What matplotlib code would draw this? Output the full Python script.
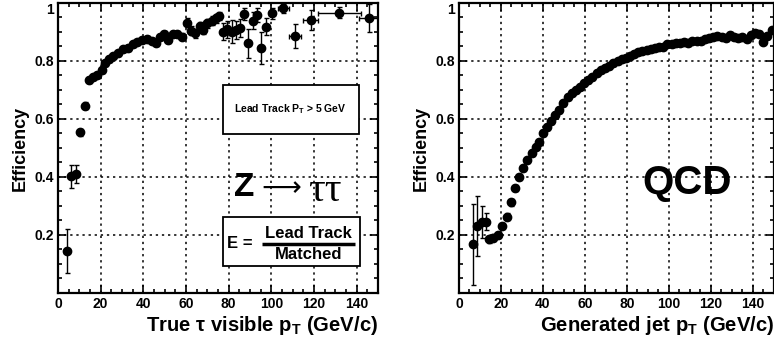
import matplotlib
matplotlib.use("Agg")
import matplotlib.pyplot as plt
from matplotlib.patches import Rectangle
from matplotlib.ticker import MultipleLocator, FixedLocator, FixedFormatter

plt.rcParams.update({
    "font.family": ["Liberation Sans", "DejaVu Sans"],
    "font.weight": "bold",
    "axes.labelweight": "bold",
    "mathtext.fontset": "custom",
    "mathtext.rm": "Liberation Sans:bold",
    "mathtext.bf": "Liberation Sans:bold",
    "mathtext.it": "Liberation Sans:bold",
})

# ---- data: Z -> tautau (left panel)
tau_pt = [4.0, 6.1, 8.4, 10.3, 12.7, 14.7, 16.6, 18.4, 20.5, 22.0,
          23.9, 25.9, 28.3, 30.6, 33.0, 35.3, 37.2, 39.2, 41.6, 43.9,
          45.9, 47.8, 49.7, 51.7, 53.7, 55.9, 58.0, 60.3, 62.2, 64.2,
          66.6, 68.1, 70.0, 72.0, 74.1, 75.6, 77.5, 79.4, 81.4, 83.4,
          85.3, 87.2, 89.2, 91.3, 93.1, 95.0, 97.5, 100.2, 105.6, 111.1,
          118.5, 131.9, 145.9]
tau_eff = [0.145, 0.403, 0.41, 0.554, 0.645, 0.734, 0.744, 0.752, 0.769, 0.792,
           0.806, 0.818, 0.826, 0.840, 0.844, 0.857, 0.864, 0.872, 0.875, 0.870,
           0.863, 0.884, 0.892, 0.872, 0.892, 0.892, 0.884, 0.932, 0.905, 0.895,
           0.921, 0.907, 0.930, 0.939, 0.947, 0.955, 0.901, 0.909, 0.901, 0.907,
           0.913, 0.962, 0.861, 0.939, 0.959, 0.844, 0.918, 0.964, 0.982, 0.886,
           0.941, 0.967, 0.947]
tau_yerr = [0.075, 0.04, 0.03, 0.012, 0.012, 0.01, 0.01, 0.01, 0.01, 0.01,
            0.01, 0.01, 0.01, 0.01, 0.01, 0.01, 0.01, 0.01, 0.01, 0.01,
            0.01, 0.01, 0.01, 0.01, 0.01, 0.01, 0.012, 0.015, 0.015, 0.015,
            0.015, 0.015, 0.015, 0.015, 0.015, 0.015, 0.03, 0.03, 0.04, 0.03,
            0.03, 0.02, 0.05, 0.03, 0.025, 0.055, 0.03, 0.02, 0.015, 0.04,
            0.035, 0.02, 0.048]
tau_xerr = [1, 1, 1, 1, 1, 1, 1, 1, 1, 1,
            1, 1, 1, 1, 1, 1, 1, 1, 1, 1,
            1, 1, 1, 1, 1, 1, 1, 1, 1, 1,
            1, 1, 1, 1, 1, 1, 1, 1, 1, 1,
            1, 1, 1, 1, 1, 1, 1, 1.5, 2.5, 3,
            3.5, 10, 5]

# ---- data: QCD jets (right panel)
jet_pt = [6.5, 8.4, 10.8, 12.9, 14.4, 16.3, 18.4, 20.6, 22.7, 24.6,
          26.7, 28.6, 30.6, 32.5, 34.6, 36.5, 38.2, 40.2, 42.0, 43.8,
          45.7, 47.6, 49.7, 51.7, 53.7, 55.7, 57.6, 59.7, 61.6, 63.5,
          65.6, 67.6, 69.5, 71.6, 73.5, 75.6, 77.5, 79.4, 81.4, 83.3,
          85.4, 87.3, 89.4, 91.3, 93.3, 95.2, 97.3, 99.2, 101.3, 103.2,
          105.2, 107.1, 109.2, 111.1, 113.2, 115.1, 117.1, 119.0, 121.1, 123.0,
          125.1, 127.0, 129.0, 131.0, 133.0, 134.9, 137.0, 138.9, 141.0, 142.9,
          144.9, 146.8, 148.9]
jet_eff = [0.168, 0.231, 0.246, 0.246, 0.185, 0.191, 0.200, 0.231, 0.263, 0.313,
           0.361, 0.401, 0.430, 0.459, 0.484, 0.505, 0.522, 0.551, 0.573, 0.594,
           0.614, 0.631, 0.654, 0.675, 0.689, 0.700, 0.711, 0.723, 0.734, 0.746,
           0.757, 0.769, 0.775, 0.784, 0.792, 0.800, 0.806, 0.811, 0.818, 0.824,
           0.830, 0.834, 0.838, 0.841, 0.844, 0.847, 0.849, 0.859, 0.857, 0.861,
           0.863, 0.867, 0.861, 0.870, 0.868, 0.870, 0.875, 0.878, 0.884, 0.886,
           0.882, 0.878, 0.890, 0.882, 0.878, 0.882, 0.876, 0.890, 0.898, 0.893,
           0.867, 0.886, 0.907]
jet_yerr = [0.14, 0.105, 0.055, 0.03, 0.012, 0.012, 0.012, 0.012, 0.012, 0.012,
            0.01, 0.01, 0.01, 0.01, 0.01, 0.01, 0.01, 0.01, 0.01, 0.01,
            0.01, 0.01, 0.01, 0.01, 0.01, 0.01, 0.01, 0.01, 0.01, 0.01,
            0.01, 0.01, 0.01, 0.01, 0.01, 0.01, 0.01, 0.01, 0.01, 0.01,
            0.01, 0.01, 0.01, 0.01, 0.01, 0.01, 0.01, 0.01, 0.01, 0.01,
            0.01, 0.01, 0.01, 0.01, 0.01, 0.01, 0.01, 0.01, 0.01, 0.01,
            0.01, 0.01, 0.01, 0.01, 0.01, 0.01, 0.01, 0.01, 0.01, 0.01,
            0.01, 0.01, 0.01]

y_ticks = [0.2, 0.4, 0.6, 0.8, 1.0]
y_ticklabels = ["0.2", "0.4", "0.6", "0.8", "1"]
x_ticks = [0, 20, 40, 60, 80, 100, 120, 140]


def style_axes(a):
    a.set_xlim(0, 150)
    a.set_ylim(0, 1)
    a.xaxis.set_major_locator(FixedLocator(x_ticks))
    a.xaxis.set_minor_locator(MultipleLocator(5))
    a.yaxis.set_major_locator(FixedLocator(y_ticks))
    a.yaxis.set_major_formatter(FixedFormatter(y_ticklabels))
    a.yaxis.set_minor_locator(MultipleLocator(0.05))
    a.tick_params(which="both", direction="in", top=True, right=True,
                  width=1.2, labelsize=10, pad=3)
    a.tick_params(which="major", length=6)
    a.tick_params(which="minor", length=3)
    a.grid(True, which="major", ls=(0, (1.5, 2.5)), color="black", lw=1.1)
    a.set_axisbelow(True)
    for s in a.spines.values():
        s.set_linewidth(1.6)
    a.set_ylabel("Efficiency", fontsize=13, labelpad=4)


fig = plt.figure(figsize=(7.74, 3.49), dpi=100)
ax1 = fig.add_axes([0.0749, 0.1605, 0.4134, 0.831])
ax2 = fig.add_axes([0.593, 0.1605, 0.407, 0.831])

for a in (ax1, ax2):
    style_axes(a)

ax1.errorbar(tau_pt, tau_eff, yerr=tau_yerr, xerr=tau_xerr, fmt="o",
             color="black", ms=6, elinewidth=1.0, capsize=1.8, zorder=3)
ax2.errorbar(jet_pt, jet_eff, yerr=jet_yerr, fmt="o", color="black", ms=6,
             elinewidth=1.0, capsize=1.8, zorder=3, clip_on=False)

ax1.set_xlabel(r"True $\tau$ visible p$_{\mathrm{T}}$ (GeV/c)", fontsize=14.6,
               loc="right", labelpad=2)
ax2.set_xlabel(r"Generated jet p$_{\mathrm{T}}$ (GeV/c)", fontsize=14.6,
               loc="right", labelpad=2)

# top "1" label sits at the figure edge: hang it just below the edge
fig.canvas.draw()
for a in (ax1, ax2):
    a.get_yticklabels()[-1].set_va("top")

# annotation boxes, left panel
ax1.add_patch(Rectangle((77.2, 0.548), 64.0, 0.169, facecolor="white",
                        edgecolor="black", lw=1.3, zorder=4))
ax1.text(108.8, 0.633, r"Lead Track P$_{\mathrm{T}}$ > 5 GeV", fontsize=7.5,
         ha="center", va="center", zorder=5)

ax1.text(92, 0.364, "Z", fontsize=24, fontweight="bold", ha="right",
         va="center", zorder=5)
ax1.text(95.5, 0.362, "\u27f6", fontsize=20, fontweight="normal",
         family=["DejaVu Sans"], ha="left", va="center", zorder=5)
ax1.text(117, 0.352, "\u03c4\u03c4", fontsize=30, fontweight="normal",
         family=["Liberation Serif", "DejaVu Serif"], ha="left", va="center",
         zorder=5)

ax1.add_patch(Rectangle((77.2, 0.094), 64.4, 0.169, facecolor="white",
                        edgecolor="black", lw=1.3, zorder=4))
ax1.text(85.3, 0.172, "E =", fontsize=12, ha="center", va="center", zorder=5)
ax1.text(117.4, 0.205, "Lead Track", fontsize=12, ha="center", va="center",
         zorder=5)
ax1.plot([95.5, 139.2], [0.168, 0.168], color="black", lw=2.5, zorder=5,
         solid_capstyle="butt")
ax1.text(117.4, 0.133, "Matched", fontsize=12, ha="center", va="center",
         zorder=5)

ax2.text(108.4, 0.379, "QCD", fontsize=29, ha="center", va="center", zorder=5)

fig.savefig("out.png", dpi=100)
